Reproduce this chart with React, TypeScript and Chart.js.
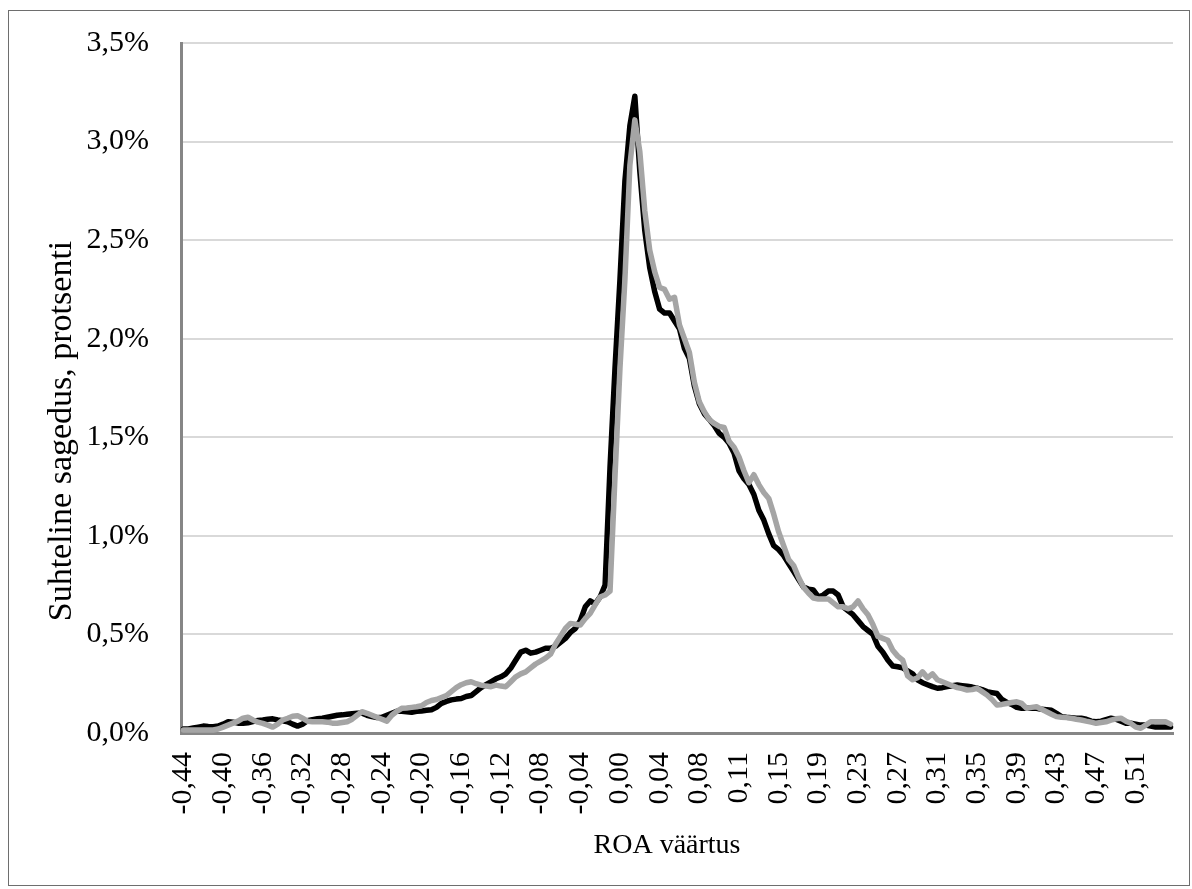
import React, { useEffect, useRef } from 'react';
import { Chart, registerables } from 'chart.js';

Chart.register(...registerables);

const tickLabels = [
  '-0,44', '-0,40', '-0,36', '-0,32', '-0,28', '-0,24', '-0,20', '-0,16', '-0,12',
  '-0,08', '-0,04', '0,00', '0,04', '0,08', '0,11', '0,15', '0,19', '0,23', '0,27',
  '0,31', '0,35', '0,39', '0,43', '0,47', '0,51',
];

const yTicks = [0, 0.5, 1, 1.5, 2, 2.5, 3, 3.5];

const xTitle = 'ROA väärtus';
const yTitle = 'Suhteline sagedus, protsenti';

// black series (percent)
const seriesBlack = [
  0.02, 0.02, 0.025, 0.03, 0.035, 0.033, 0.032, 0.035, 0.045, 0.057,
  0.055, 0.05, 0.049, 0.052, 0.058, 0.064, 0.066, 0.07, 0.072, 0.066,
  0.062, 0.057, 0.045, 0.035, 0.045, 0.062, 0.068, 0.072, 0.075, 0.08,
  0.085, 0.09, 0.092, 0.095, 0.098, 0.1, 0.1, 0.09, 0.083, 0.078,
  0.08, 0.09, 0.1, 0.11, 0.11, 0.108, 0.105, 0.11, 0.112, 0.115,
  0.118, 0.13, 0.15, 0.16, 0.168, 0.172, 0.175, 0.185, 0.19, 0.21,
  0.23, 0.245, 0.26, 0.275, 0.285, 0.3, 0.33, 0.37, 0.41, 0.42,
  0.405, 0.41, 0.42, 0.43, 0.43, 0.44, 0.46, 0.48, 0.51, 0.53,
  0.57, 0.64, 0.67, 0.655, 0.69, 0.75, 1.35, 1.85, 2.3, 2.8,
  3.08, 3.23, 2.85, 2.55, 2.36, 2.24, 2.15, 2.13, 2.13, 2.09,
  2.05, 1.95, 1.9, 1.76, 1.67, 1.62, 1.59, 1.56, 1.52, 1.5,
  1.47, 1.42, 1.33, 1.29, 1.26, 1.21, 1.13, 1.08, 1.01, 0.95,
  0.93, 0.9, 0.86, 0.82, 0.78, 0.74, 0.73, 0.725, 0.69, 0.7,
  0.72, 0.72, 0.7, 0.64, 0.62, 0.6, 0.57, 0.54, 0.52, 0.5,
  0.44, 0.41, 0.37, 0.34, 0.336, 0.33, 0.315, 0.3, 0.27, 0.255,
  0.245, 0.235, 0.227, 0.23, 0.235, 0.24, 0.243, 0.24, 0.237, 0.233,
  0.227, 0.22, 0.21, 0.205, 0.2, 0.17, 0.155, 0.145, 0.13, 0.125,
  0.125, 0.125, 0.125, 0.12, 0.118, 0.115, 0.1, 0.083, 0.08, 0.078,
  0.075, 0.075, 0.07, 0.06, 0.057, 0.06, 0.068, 0.075, 0.07, 0.06,
  0.05, 0.049, 0.045, 0.04, 0.04, 0.035, 0.03, 0.03, 0.03, 0.03,
];

// gray series (percent)
const seriesGray = [
  0.015, 0.015, 0.015, 0.015, 0.015, 0.015, 0.015, 0.02, 0.03, 0.04,
  0.05, 0.06, 0.075, 0.08, 0.066, 0.055, 0.049, 0.04, 0.03, 0.045,
  0.066, 0.075, 0.085, 0.088, 0.075, 0.06, 0.057, 0.057, 0.057, 0.055,
  0.05, 0.049, 0.053, 0.057, 0.07, 0.09, 0.108, 0.1, 0.09, 0.08,
  0.07, 0.06, 0.09, 0.11, 0.125, 0.127, 0.13, 0.133, 0.138, 0.155,
  0.165, 0.17, 0.18, 0.19, 0.21, 0.23, 0.245, 0.255, 0.26, 0.25,
  0.243, 0.238, 0.235, 0.243, 0.238, 0.235, 0.26, 0.285, 0.3, 0.31,
  0.33, 0.35, 0.365, 0.38, 0.4, 0.45, 0.49, 0.53, 0.556, 0.552,
  0.548, 0.58, 0.607, 0.65, 0.69, 0.7, 0.72, 1.3, 1.85, 2.3,
  2.88, 3.11, 2.95, 2.65, 2.45, 2.34, 2.26, 2.25, 2.2, 2.21,
  2.07, 2.0, 1.93, 1.78, 1.68, 1.63, 1.59, 1.57, 1.555, 1.55,
  1.48, 1.45, 1.4, 1.33, 1.27, 1.31, 1.26, 1.22, 1.19, 1.11,
  1.02, 0.95, 0.88, 0.85, 0.79, 0.74, 0.71, 0.685, 0.68, 0.68,
  0.68, 0.66, 0.64, 0.64, 0.63, 0.64, 0.67, 0.63, 0.6, 0.55,
  0.49, 0.48, 0.47, 0.42, 0.39, 0.37, 0.29, 0.27, 0.28, 0.31,
  0.28, 0.3, 0.27, 0.26, 0.25, 0.24, 0.23, 0.225, 0.218, 0.22,
  0.227, 0.21, 0.193, 0.17, 0.142, 0.145, 0.15, 0.155, 0.158, 0.15,
  0.125, 0.13, 0.133, 0.12, 0.108, 0.095, 0.083, 0.08, 0.078, 0.075,
  0.07, 0.066, 0.06, 0.055, 0.049, 0.053, 0.057, 0.065, 0.072, 0.075,
  0.06, 0.049, 0.03, 0.024, 0.04, 0.057, 0.057, 0.057, 0.057, 0.045,
];

const categories = seriesBlack.map((_, i) => (i % 8 === 0 ? tickLabels[i / 8] ?? '' : ''));

const FONT = "'Liberation Serif', 'Times New Roman', serif";

const framePlugin = {
  id: 'frame',
  beforeDraw(chart: any) {
    const ctx = chart.ctx;
    ctx.save();
    ctx.fillStyle = '#ffffff';
    ctx.fillRect(0, 0, chart.width, chart.height);
    ctx.strokeStyle = '#6e6e6e';
    ctx.lineWidth = 1;
    ctx.strokeRect(8.5, 10.5, 1181, 875);
    ctx.restore();
  },
  afterDraw(chart: any) {
    const ctx = chart.ctx;
    ctx.save();
    ctx.fillStyle = '#000';
    ctx.textAlign = 'center';
    ctx.textBaseline = 'middle';
    ctx.font = `28px ${FONT}`;
    ctx.fillText(xTitle, 667, 846);
    ctx.translate(62, 431);
    ctx.rotate(-Math.PI / 2);
    ctx.font = `34px ${FONT}`;
    ctx.fillText(yTitle, 0, 0);
    ctx.restore();
  },
};

export default function App() {
  const ref = useRef<HTMLCanvasElement | null>(null);

  useEffect(() => {
    if (!ref.current) return;
    const chart = new Chart(ref.current, {
      type: 'line',
      data: {
        labels: categories,
        datasets: [
          {
            label: 'hall',
            data: seriesGray,
            borderColor: '#a5a5a5',
            borderWidth: 5.5,
            pointRadius: 0,
            tension: 0,
            fill: false,
            borderJoinStyle: 'round',
            borderCapStyle: 'round',
          },
          {
            label: 'must',
            data: seriesBlack,
            borderColor: '#000000',
            borderWidth: 5.5,
            pointRadius: 0,
            tension: 0,
            fill: false,
            borderJoinStyle: 'round',
            borderCapStyle: 'round',
          },
        ],
      },
      options: {
        responsive: false,
        animation: false,
        devicePixelRatio: 1,
        layout: { padding: { left: 44, top: 43, right: 19, bottom: 25 } },
        plugins: {
          legend: { display: false },
          tooltip: { enabled: false },
        },
        scales: {
          x: {
            type: 'category',
            offset: true,
            afterFit: (s: any) => {
              s.height = 131;
              s.paddingLeft = 0;
              s.paddingRight = 0;
            },
            grid: { display: false, drawTicks: false },
            border: { display: true, color: '#868686', width: 3 },
            ticks: {
              autoSkip: false,
              maxRotation: 90,
              minRotation: 90,
              padding: 19,
              color: '#000',
              font: { family: FONT, size: 30 },
            },
            title: { display: false },
          },
          y: {
            min: 0,
            max: 3.5,
            afterFit: (s: any) => {
              s.width = 137;
              s.paddingTop = 0;
              s.paddingBottom = 0;
            },
            afterBuildTicks: (s: any) => {
              s.ticks = yTicks.map((v) => ({ value: v }));
            },
            grid: { color: '#d9d9d9', lineWidth: 2, drawTicks: false },
            border: { display: true, color: '#868686', width: 3 },
            ticks: {
              padding: 32,
              color: '#000',
              font: { family: FONT, size: 30 },
              callback: (v: any) => Number(v).toFixed(1).replace('.', ',') + '%',
            },
            title: { display: false },
          },
        },
      },
      plugins: [framePlugin],
    });
    return () => chart.destroy();
  }, []);

  return (
    <div style={{ position: 'fixed', left: 0, top: 0, width: 1192, height: 889 }}>
      <canvas ref={ref} width={1192} height={889} style={{ width: 1192, height: 889, display: 'block' }} />
    </div>
  );
}
